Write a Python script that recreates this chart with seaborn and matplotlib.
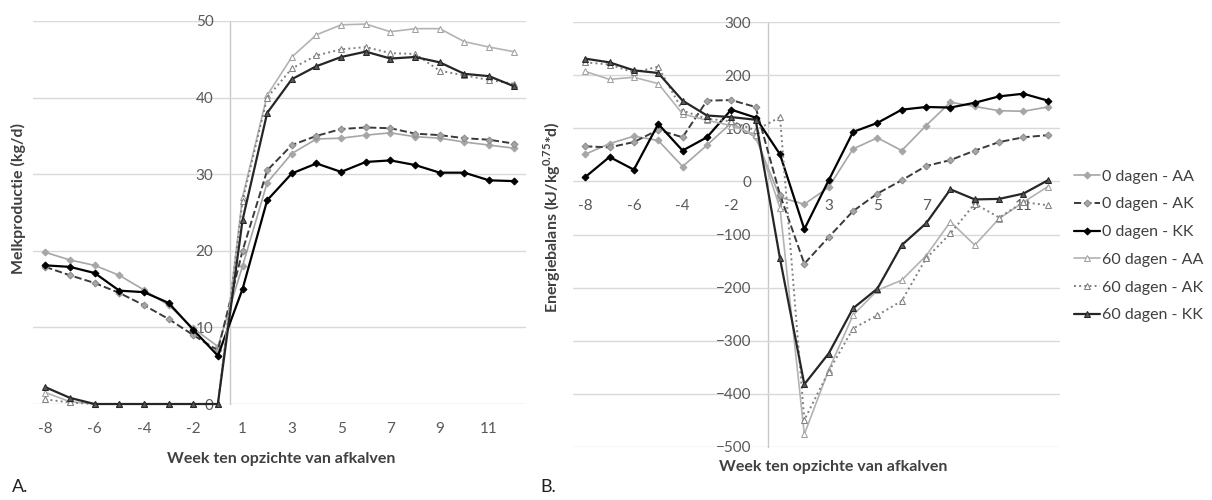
import numpy as np
import matplotlib
matplotlib.use("Agg")
import matplotlib.pyplot as plt
import seaborn as sns

# ---------------- data ----------------
weeks = [-8, -7, -6, -5, -4, -3, -2, -1, 1, 2, 3, 4, 5, 6, 7, 8, 9, 10, 11, 12]
series_names = ["0 dagen - AA", "0 dagen - AK", "0 dagen - KK",
                "60 dagen - AA", "60 dagen - AK", "60 dagen - KK"]

milk_0_AA = [19.8, 18.8, 18.1, 16.8, 14.9, 12.9, 9.9, 7.5, 18.0, 28.9, 32.7, 34.6, 34.7, 35.1, 35.4, 34.9, 34.7, 34.2, 33.8, 33.4]
milk_0_AK = [17.9, 16.8, 15.8, 14.5, 12.9, 11.1, 9.0, 7.0, 20.0, 30.5, 33.8, 35.0, 35.9, 36.1, 36.0, 35.3, 35.1, 34.7, 34.5, 34.0]
milk_0_KK = [18.1, 17.9, 17.1, 14.8, 14.6, 13.2, 9.7, 6.3, 15.0, 26.6, 30.1, 31.4, 30.3, 31.6, 31.8, 31.2, 30.2, 30.2, 29.2, 29.1]
milk_60_AA = [1.5, 0.3, 0, 0, 0, 0, 0, 0, 27.0, 40.3, 45.3, 48.2, 49.5, 49.6, 48.6, 49.0, 49.0, 47.3, 46.6, 46.0]
milk_60_AK = [0.6, 0.2, 0, 0, 0, 0, 0, 0, 26.5, 40.0, 43.8, 45.5, 46.3, 46.6, 45.8, 45.7, 43.5, 42.9, 42.3, 41.8]
milk_60_KK = [2.2, 0.8, 0, 0, 0, 0, 0, 0, 24.0, 38.0, 42.4, 44.1, 45.3, 46.0, 45.1, 45.3, 44.6, 43.1, 42.8, 41.5]

eb_0_AA = [51, 71, 85, 77, 28, 68, 110, 83, -30, -43, -11, 61, 82, 58, 105, 149, 141, 133, 132, 140]
eb_0_AK = [66, 64, 74, 97, 83, 152, 153, 140, -25, -155, -105, -56, -23, 2, 29, 40, 58, 74, 83, 87]
eb_0_KK = [8, 46, 22, 108, 58, 83, 135, 120, 51, -90, 2, 93, 110, 135, 140, 139, 148, 160, 165, 152]
eb_60_AA = [207, 192, 196, 184, 127, 115, 105, 88, -50, -476, -355, -252, -205, -186, -140, -76, -120, -70, -39, -10]
eb_60_AK = [224, 220, 205, 216, 133, 118, 113, 96, 121, -449, -358, -277, -252, -225, -145, -98, -42, -68, -39, -45]
eb_60_KK = [231, 224, 209, 204, 152, 124, 121, 116, -145, -382, -324, -239, -202, -120, -79, -15, -34, -33, -23, 2]

milk = [milk_0_AA, milk_0_AK, milk_0_KK, milk_60_AA, milk_60_AK, milk_60_KK]
energy = [eb_0_AA, eb_0_AK, eb_0_KK, eb_60_AA, eb_60_AK, eb_60_KK]

xtick_labels = ["-8", "-6", "-4", "-2", "1", "3", "5", "7", "9", "11"]
milk_ticks = [0, 10, 20, 30, 40, 50]
eb_ticks = [-500, -400, -300, -200, -100, 0, 100, 200, 300]

# ---------------- style ----------------
sns.set_style("white")
plt.rcParams['font.family'] = ['Lato', 'DejaVu Sans']
plt.rcParams['mathtext.fontset'] = 'custom'
plt.rcParams['mathtext.rm'] = 'Lato'
plt.rcParams['mathtext.bf'] = 'Lato:bold'

styles = [
    dict(color='#a6a6a6', linestyle='-', marker='D', markersize=3.5, markerfacecolor='#a6a6a6', markeredgecolor='#a6a6a6', linewidth=1.2),
    dict(color='#3a3a3a', linestyle='--', marker='D', markersize=3.5, markerfacecolor='#a6a6a6', markeredgecolor='#8c8c8c', linewidth=1.4),
    dict(color='#000000', linestyle='-', marker='D', markersize=3.5, markerfacecolor='#000000', markeredgecolor='#000000', linewidth=1.6),
    dict(color='#b3b3b3', linestyle='-', marker='^', markersize=5, markerfacecolor='white', markeredgecolor='#a0a0a0', linewidth=1.2),
    dict(color='#808080', linestyle=':', marker='^', markersize=5, markerfacecolor='white', markeredgecolor='#808080', linewidth=1.4),
    dict(color='#262626', linestyle='-', marker='^', markersize=4, markerfacecolor='#595959', markeredgecolor='#262626', linewidth=1.6),
]

W, H = 1212, 500
fig = plt.figure(figsize=(W / 100, H / 100), dpi=100)
ax1 = fig.add_axes([33 / W, 1 - 404 / H, (526 - 33) / W, (404 - 21) / H])
ax2 = fig.add_axes([573 / W, 1 - 447 / H, (1060 - 573) / W, (447 - 22) / H])

pos = np.arange(len(weeks))
label_idx = [weeks.index(int(t)) for t in xtick_labels]

for ax, data in ((ax1, milk), (ax2, energy)):
    for name, vals, st in zip(series_names, data, styles):
        sns.lineplot(x=pos, y=vals, ax=ax, legend=False, label=name, clip_on=False, **st)
    ax.set_xlim(-0.5, len(weeks) - 0.5)
    ax.set_xticks(label_idx)
    ax.set_xticklabels(xtick_labels)
    ax.yaxis.grid(True, color='#d9d9d9', linewidth=1)
    ax.xaxis.grid(False)
    ax.set_axisbelow(True)
    for s in ['top', 'right']:
        ax.spines[s].set_visible(False)
    ax.spines['bottom'].set_color('none')
    ax.spines['left'].set_position(('data', 7.5))
    ax.spines['left'].set_color('#c8c8c8')
    ax.spines['left'].set_linewidth(1)
    ax.spines['left'].set_zorder(0.5)
    ax.tick_params(axis='both', length=0, labelsize=11, labelcolor='#595959')
    ax.tick_params(axis='x', pad=13)
    ax.tick_params(axis='y', pad=12)
    ax.set_xlabel("")
    ax.set_ylabel("")

ax1.set_ylim(0, 50)
ax1.set_yticks(milk_ticks)
ax2.set_ylim(-500, 300)
ax2.set_yticks(eb_ticks)
ax2.spines['bottom'].set_position(('data', 0))

# axis titles
fig.text(281 / W, 1 - 459 / H, "Week ten opzichte van afkalven", ha='center', va='center',
         fontsize=11.5, fontweight='bold', color='#404040')
fig.text(833 / W, 1 - 467 / H, "Week ten opzichte van afkalven", ha='center', va='center',
         fontsize=11.5, fontweight='bold', color='#404040')
fig.text(18 / W, 1 - 198 / H, "Melkproductie (kg/d)", ha='center', va='center', rotation=90,
         fontsize=11.5, fontweight='bold', color='#404040')
fig.text(552 / W, 1 - 217 / H, r"Energiebalans (kJ/kg$^{\mathbf{0.75}}$*d)", ha='center', va='center',
         rotation=90, fontsize=11.5, fontweight='bold', color='#404040')

# panel labels
fig.text(12 / W, 1 - 487 / H, "A.", ha='left', va='center', fontsize=13, color='#202020')
fig.text(540 / W, 1 - 487 / H, "B.", ha='left', va='center', fontsize=13, color='#202020')

# legend
handles, labels = ax2.get_legend_handles_labels()
fig.legend(handles[:6], labels[:6], loc='center left', bbox_to_anchor=(1068 / W, 1 - 246 / H),
           frameon=False, fontsize=11.5, handlelength=1.6, handletextpad=0.1, labelspacing=0.85,
           labelcolor='#404040', borderaxespad=0)

fig.savefig("out.png", dpi=100)
